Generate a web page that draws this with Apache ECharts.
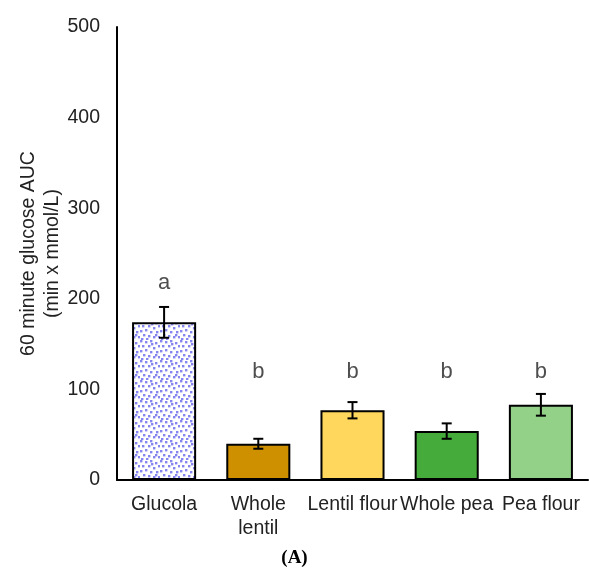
<!DOCTYPE html>
<html><head><meta charset="utf-8">
<script src="https://cdn.jsdelivr.net/npm/echarts@6/dist/echarts.min.js"></script>
<style>html,body{margin:0;padding:0;background:#fff}#c{width:589px;height:572px}</style>
</head><body><div id="c"></div>
<script>
const categories = ['Glucola', 'Whole\nlentil', 'Lentil flour', 'Whole pea', 'Pea flour'];
const means = [174, 40, 77, 54, 83];
const errors = [17, 5.5, 9, 8.5, 12];
const letters = ['a', 'b', 'b', 'b', 'b'];
const letterPos = [217, 119, 119, 119, 119];
const yTicks = [0, 100, 200, 300, 400, 500];

// dotted pattern for Glucola
const pc = document.createElement('canvas');
pc.width = 20; pc.height = 20;
const pctx = pc.getContext('2d');
pctx.fillStyle = '#ffffff'; pctx.fillRect(0, 0, 20, 20);
pctx.fillStyle = '#8585f0';
const dots = [[1,1],[6,2],[11,1],[16,3],[3,6],[9,6],[14,8],[19,6],[1,11],[6,10],[11,12],[17,12],[4,15],[9,16],[14,17],[19,17],[2,19],[12,4],[7,19],[16,15]];
dots.forEach(d => { pctx.fillRect(d[0] - 1, d[1] - 1, 2.4, 2.4); });

const colors = [{image: pc, repeat: 'repeat'}, '#CF9000', '#FFD75C', '#45AB3B', '#93D188'];

const chart = echarts.init(document.getElementById('c'));
chart.setOption({
  animation: false,
  grid: {left: 117, right: 1, top: 27, bottom: 92, outerBoundsMode: 'none', containLabel: false},
  xAxis: {
    type: 'category', data: categories,
    axisLine: {lineStyle: {color: '#000', width: 2}},
    axisTick: {show: false},
    axisLabel: {interval: 0, color: '#222', fontSize: 19.5, fontFamily: 'Liberation Sans, Arial', margin: 13, lineHeight: 24}
  },
  yAxis: {
    type: 'value', min: 0, max: 500, interval: 100,
    name: '60 minute glucose AUC\n(min x mmol/L)', nameLocation: 'middle', nameGap: 52, nameMoveOverlap: false,
    nameTextStyle: {color: '#222', fontSize: 19.5, fontFamily: 'Liberation Sans, Arial', lineHeight: 24},
    axisLine: {show: true, lineStyle: {color: '#000', width: 2}},
    axisTick: {show: false},
    splitLine: {show: false},
    axisLabel: {color: '#222', fontSize: 19.5, fontFamily: 'Liberation Sans, Arial', margin: 17,
      formatter: v => yTicks.includes(v) ? String(v) : ''}
  },
  series: [
    {
      type: 'bar', barWidth: '68%',
      data: means.map((v, i) => ({value: v, itemStyle: {color: colors[i]}})),
      itemStyle: {borderColor: '#000', borderWidth: 2}
    },
    {
      type: 'custom',
      data: means.map((v, i) => [i, v - errors[i], v + errors[i]]),
      renderItem: function (params, api) {
        const lo = api.coord([api.value(0), api.value(1)]);
        const hi = api.coord([api.value(0), api.value(2)]);
        const w = 5;
        const st = {stroke: '#000', lineWidth: 2};
        return {type: 'group', children: [
          {type: 'line', shape: {x1: hi[0], y1: hi[1], x2: lo[0], y2: lo[1]}, style: st},
          {type: 'line', shape: {x1: hi[0] - w, y1: hi[1], x2: hi[0] + w, y2: hi[1]}, style: st},
          {type: 'line', shape: {x1: lo[0] - w, y1: lo[1], x2: lo[0] + w, y2: lo[1]}, style: st}
        ]};
      },
      z: 5
    },
    {
      type: 'scatter', symbolSize: 0,
      data: letterPos.map((v, i) => [i, v]),
      label: {show: true, position: 'inside', formatter: p => letters[p.dataIndex],
        color: '#222', fontSize: 22, fontFamily: 'Liberation Sans, Arial'}
    }
  ],
  graphic: [{
    type: 'text', left: 'center', top: 549,
    style: {text: '(A)', font: 'bold 19px "Liberation Serif", "Times New Roman", serif', fill: '#000'}
  }]
});
</script></body></html>
